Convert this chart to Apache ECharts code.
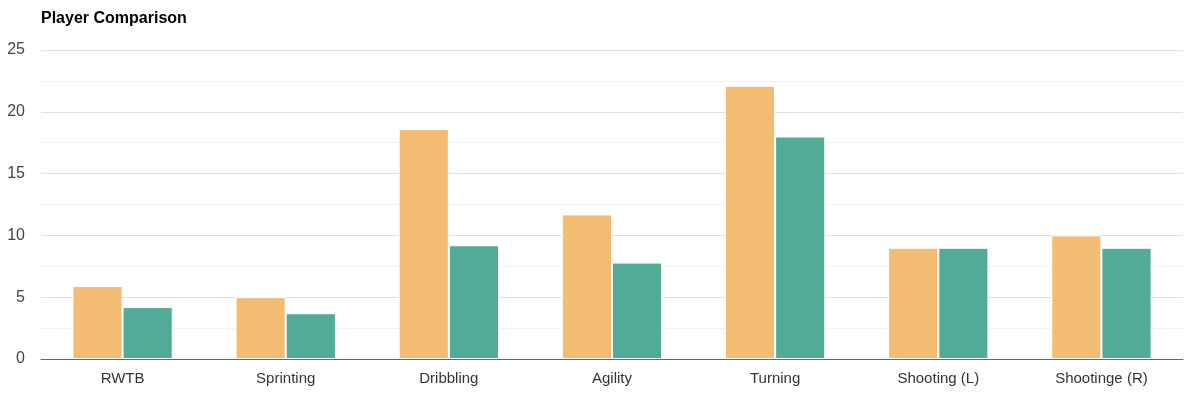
<!DOCTYPE html>
<html>
<head>
<meta charset="utf-8">
<script src="https://cdn.jsdelivr.net/npm/echarts@6/dist/echarts.min.js"></script>
<style>html,body{margin:0;padding:0;background:#fff;}#c{width:1189px;height:394px;}</style>
</head>
<body>
<div id="c"></div>
<script>
var categories = ['RWTB', 'Sprinting', 'Dribbling', 'Agility', 'Turning', 'Shooting (L)', 'Shootinge (R)'];
var player1 = [5.9, 5.0, 18.6, 11.7, 22.1, 9, 10];
var player2 = [4.2, 3.7, 9.2, 7.8, 18, 9, 9];
var yTicks = [0, 5, 10, 15, 20, 25];

var chart = echarts.init(document.getElementById('c'), null, {renderer: 'canvas'});
chart.setOption({
  animation: false,
  title: {
    text: 'Player Comparison', left: 36, top: 6,
    textStyle: {fontFamily: 'Liberation Sans', fontSize: 16, fontWeight: 'bold', color: '#000'}
  },
  grid: {left: 41, right: 6, top: 50, bottom: 35},
  xAxis: {
    type: 'category', data: categories,
    axisLine: {lineStyle: {color: '#666', width: 1}},
    axisTick: {show: false},
    axisLabel: {fontFamily: 'Liberation Sans', fontSize: 15, color: '#333', margin: 12}
  },
  yAxis: {
    type: 'value', min: yTicks[0], max: yTicks[yTicks.length - 1], interval: 5,
    axisLine: {show: false}, axisTick: {show: false},
    axisLabel: {fontFamily: 'Liberation Sans', fontSize: 16, color: '#444', margin: 16},
    splitLine: {lineStyle: {color: '#e0e0e0', width: 1}},
    minorTick: {show: false, splitNumber: 2},
    minorSplitLine: {show: true, lineStyle: {color: '#f2f2f2', width: 1}}
  },
  series: [
    {type: 'bar', data: player1, barGap: '0%', barCategoryGap: '38.5%',
     itemStyle: {color: '#f2bc72', borderColor: '#fff', borderWidth: 1}},
    {type: 'bar', data: player2,
     itemStyle: {color: '#52ab96', borderColor: '#fff', borderWidth: 1}}
  ]
});
</script>
</body>
</html>
